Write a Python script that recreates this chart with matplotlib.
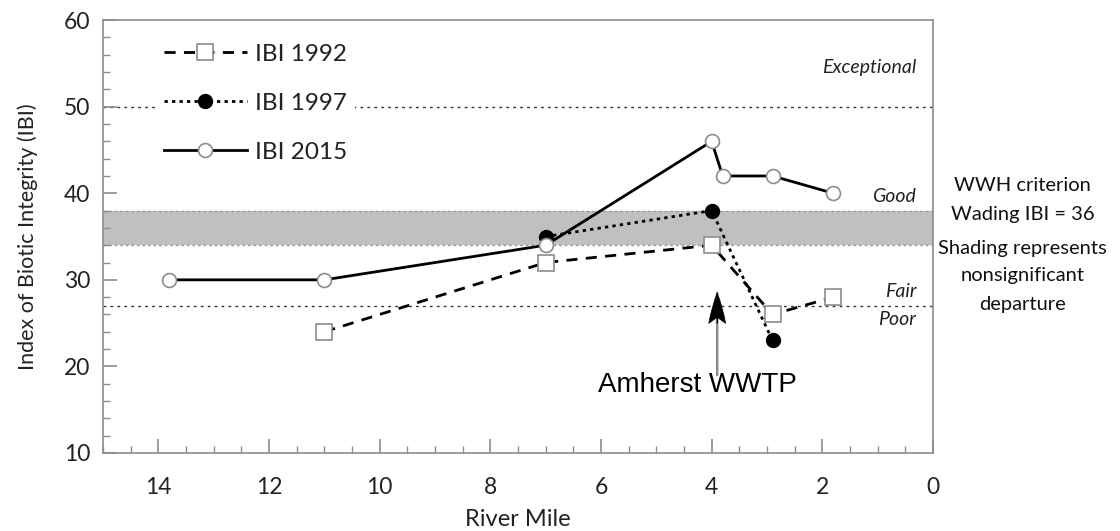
import matplotlib
matplotlib.use("Agg")
import matplotlib.pyplot as plt
from matplotlib.ticker import MultipleLocator

plt.rcParams['font.family'] = ['Lato', 'DejaVu Sans']

# IBI survey results by river mile
miles_1992 = [11.0, 7.0, 4.0, 2.9, 1.8]
ibi_1992 = [24, 32, 34, 26, 28]

miles_1997 = [7.0, 4.0, 2.9]
ibi_1997 = [35, 38, 23]

miles_2015 = [13.8, 11.0, 7.0, 4.0, 3.8, 2.9, 1.8]
ibi_2015 = [30, 30, 34, 46, 42, 42, 40]

# narrative thresholds
exceptional_line = 50
fair_poor_line = 27
band_low, band_high = 34, 38
wwtp_mile = 3.9

side_lines = ['WWH criterion', 'Wading IBI = 36', 'Shading represents',
              'nonsignificant', 'departure']

fig = plt.figure(figsize=(11.2, 5.31), dpi=100)
ax = fig.add_axes([0.092, 0.147, 0.741, 0.815])

grey = '#8c8c8c'
ink = '#222222'

# nonsignificant departure band around the WWH criterion
ax.axhspan(band_low, band_high, color='#c0c0c0', lw=0, zorder=0)
for yv in (band_low, band_high):
    ax.axhline(yv, color='#9a9a9a', lw=1, ls=(0, (2, 2)), zorder=1)
for yv in (exceptional_line, fair_poor_line):
    ax.axhline(yv, color='#333333', lw=1, ls=(0, (2, 3)), zorder=1)

ax.plot(miles_1992, ibi_1992, color='black', lw=2, ls=(0, (4, 3)),
        marker='s', ms=11, mfc='white', mec=grey, mew=1.2,
        label='IBI 1992', zorder=3)
ax.plot(miles_1997, ibi_1997, color='black', lw=2, ls=(0, (1.2, 1.5)),
        marker='o', ms=10, mfc='black', mec='black',
        label='IBI 1997', zorder=4)
ax.plot(miles_2015, ibi_2015, color='black', lw=2, ls='-',
        marker='o', ms=10, mfc='white', mec=grey, mew=1.2,
        label='IBI 2015', zorder=5)

ax.set_xlim(15, 0)
ax.set_ylim(10, 60)
ax.xaxis.set_major_locator(MultipleLocator(2))
ax.xaxis.set_minor_locator(MultipleLocator(0.5))
ax.yaxis.set_major_locator(MultipleLocator(10))
ax.yaxis.set_minor_locator(MultipleLocator(2))
ax.tick_params(which='both', direction='in', colors=grey, labelcolor=ink,
               labelsize=16.5)
ax.tick_params(which='major', length=10, width=1.2)
ax.tick_params(which='minor', length=5, width=1)
ax.tick_params(axis='x', pad=17)
ax.tick_params(axis='y', pad=9)
for sp in ax.spines.values():
    sp.set_color(grey)
    sp.set_linewidth(1.2)

ax.set_xlabel('River Mile', fontsize=17, color=ink, labelpad=8)
ax.set_ylabel('Index of Biotic Integrity (IBI)', fontsize=15.5, color=ink,
              labelpad=19)

# narrative labels on the right of the plot
lbl = dict(style='italic', fontsize=14, color=ink, ha='right')
ax.text(0.3, 54.5, 'Exceptional', va='center', **lbl)
ax.text(0.3, 39.6, 'Good', va='center', **lbl)
ax.text(0.3, 28.6, 'Fair', va='center', **lbl)
ax.text(0.3, 25.4, 'Poor', va='center', **lbl)

# criterion note beside the axes
for txt, yf in zip(side_lines, [0.617, 0.552, 0.473, 0.409, 0.344]):
    ax.text(1.108, yf, txt, fontsize=14.5, color='#111111', ha='center',
            va='center', transform=ax.transAxes, clip_on=False)

# WWTP outfall marker
ax.annotate('', xy=(wwtp_mile, 28.5), xytext=(wwtp_mile, 19.0),
            arrowprops=dict(arrowstyle='-', color=grey, lw=1.8,
                            shrinkA=0, shrinkB=0), zorder=2)
ax.annotate('', xy=(wwtp_mile, 28.5), xytext=(wwtp_mile, 26.0),
            arrowprops=dict(arrowstyle='fancy,head_length=1.0,head_width=0.55,tail_width=0.01',
                            fc='black', ec='black', lw=0.5,
                            shrinkA=0, shrinkB=0, mutation_scale=22), zorder=2)
ax.text(wwtp_mile + 0.35, 17.9, 'Amherst WWTP', fontsize=20,
        family='Liberation Sans', ha='center', va='center', color='black')

leg = ax.legend(loc='upper left', bbox_to_anchor=(0.05, 0.99), frameon=True,
                fontsize=17.5, handlelength=3.4, labelspacing=1.15,
                handletextpad=0.35, labelcolor=ink, borderpad=0.3,
                fancybox=False, framealpha=1)
leg.get_frame().set_facecolor('white')
leg.get_frame().set_edgecolor('none')

fig.savefig('out.png', dpi=100)
